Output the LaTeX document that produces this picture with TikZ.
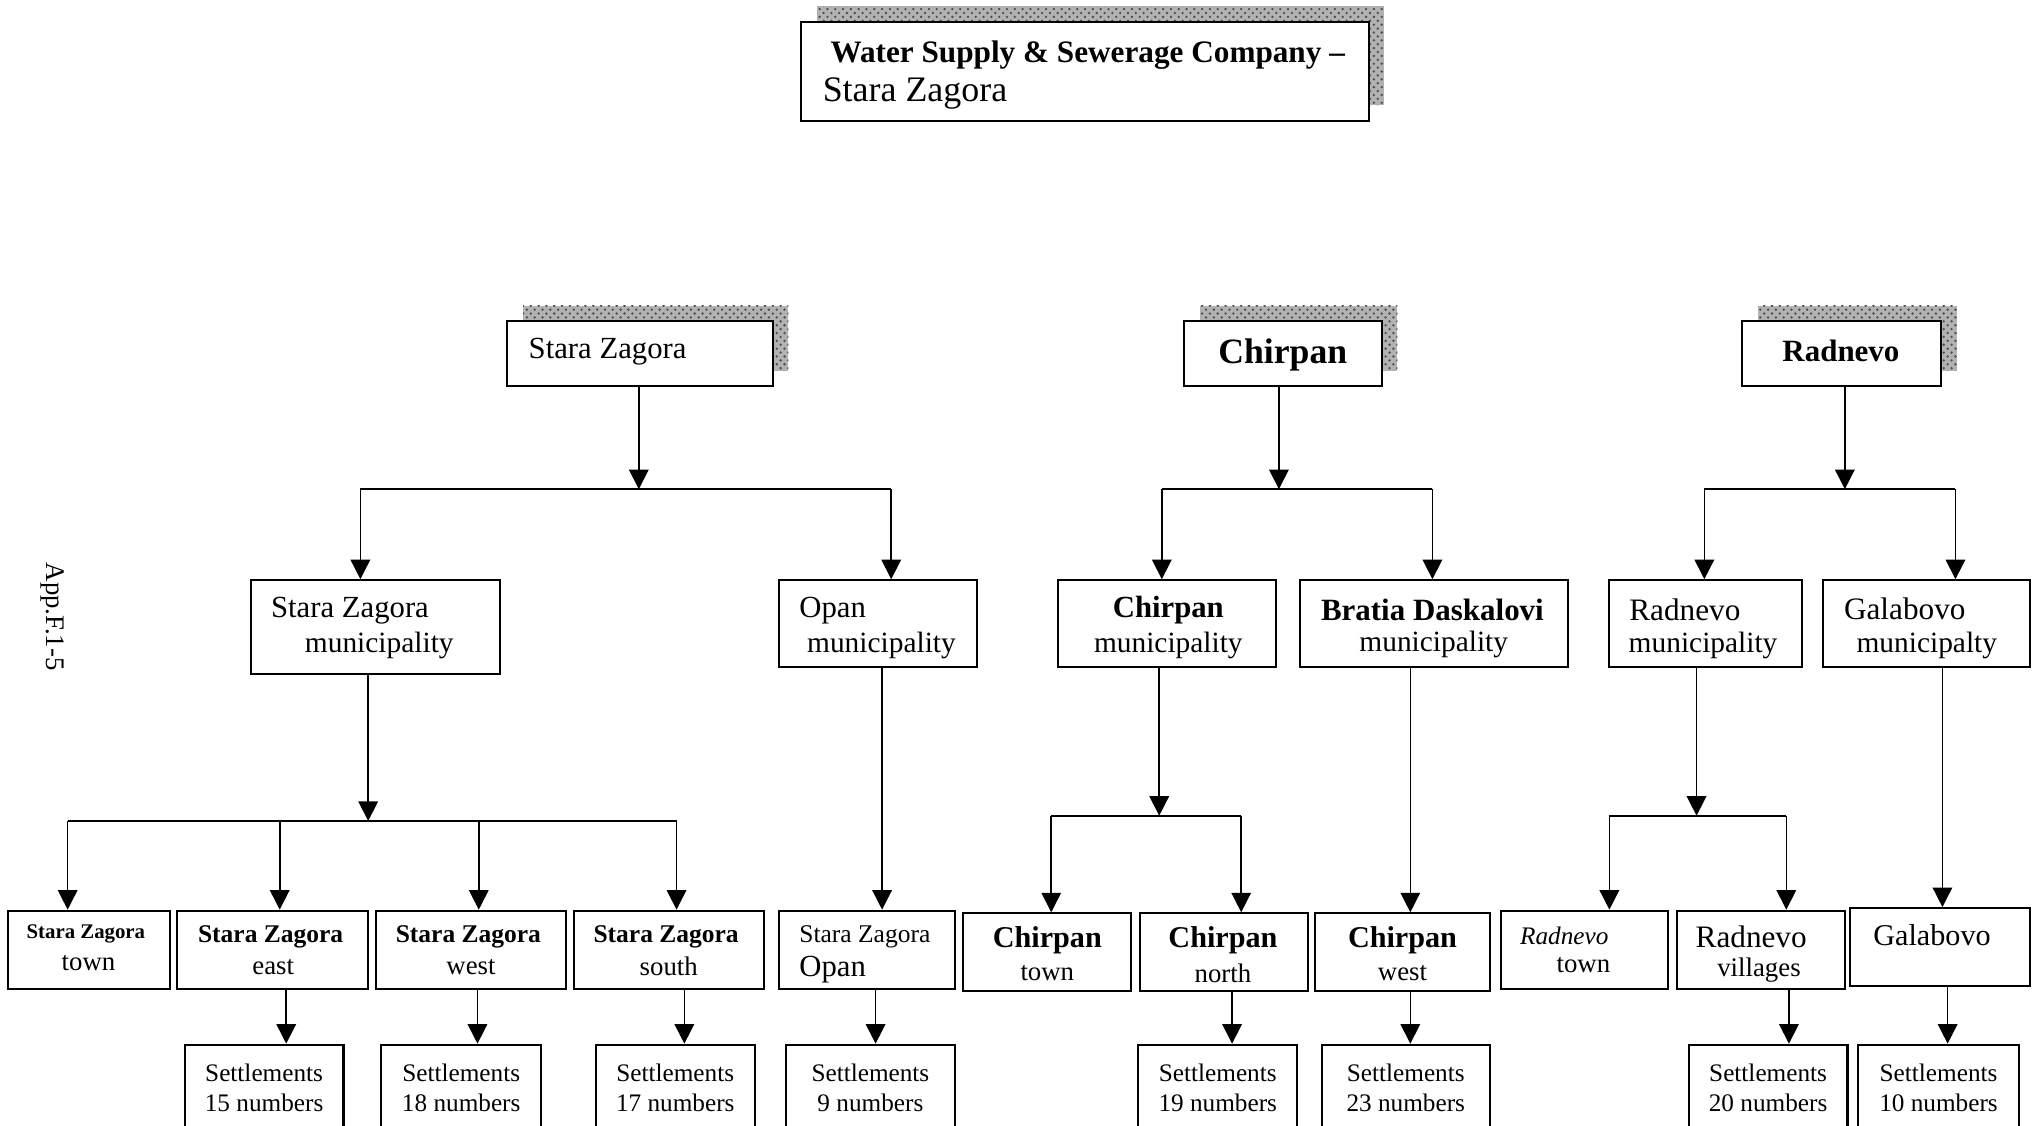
\documentclass[tikz,border=0pt]{standalone}
\usepackage{fontspec}
\setmainfont{Liberation Serif}
\usetikzlibrary{arrows.meta,fit,calc,patterns}
\newcommand{\fsz}[1]{\fontsize{#1}{#1}\selectfont}
\tikzset{
  box/.style={draw, line width=0.8pt, fill=white, inner sep=0pt},
  shadowbox/.style={fill=gray!60, draw=none, postaction={pattern=crosshatch dots, pattern color=black!70}},
  link/.style={line width=0.6pt},
  arr/.style={line width=0.6pt, -{Triangle[length=7.5pt,width=7.5pt]}},
  txt/.style={inner sep=0pt, yshift=-1pt}
}

\begin{document}
\begin{tikzpicture}[x=0.5pt, y=-0.5pt]
\useasboundingbox (0,0) rectangle (1568,865);
\clip (0,0) rectangle (1568,865);

% shadows of the top boxes
\fill[shadowbox] (628,5) rectangle (1064,81);
\fill[shadowbox] (402,235) rectangle (606,285);
\fill[shadowbox] (922,235) rectangle (1074,285);
\fill[shadowbox] (1351,235) rectangle (1504,285);

% company
\node[box, fit={(616,17) (1052,93)}] (wss) {};
\node[txt, anchor=west, font=\bfseries\fsz{12}] (wssA) at (638,40) {Water Supply \& Sewerage Company --};
\node[txt, anchor=west, font=\fsz{13.8}] (wssB) at (632,70) {Stara Zagora};

% regions
\node[box, fit={(390,247) (594,297)}] (sz) {};
\node[txt, anchor=west, font=\fsz{11.8}] (szA) at (406,268) {Stara Zagora};
\node[box, fit={(910,247) (1062,297)}] (ch) {};
\node[txt, font=\bfseries\fsz{13.7}] (chA) at (986,271) {Chirpan};
\node[box, fit={(1339,247) (1492,297)}] (ra) {};
\node[txt, font=\bfseries\fsz{11.9}] (raA) at (1415,268) {Radnevo};

% municipalities
\node[box, fit={(193,446) (384,518)}] (szm) {};
\node[txt, anchor=west, font=\fsz{11.8}] (szmA) at (208,467) {Stara Zagora};
\node[txt, anchor=west, font=\fsz{11.3}] (szmB) at (234,494) {municipality};
\node[box, fit={(599,446) (751,513)}] (opm) {};
\node[txt, anchor=west, font=\fsz{11.8}] (opmA) at (614,467) {Opan};
\node[txt, anchor=west, font=\fsz{11.3}] (opmB) at (620,494) {municipality};
\node[box, fit={(813,446) (981,513)}] (chm) {};
\node[txt, font=\bfseries\fsz{11.8}] (chmA) at (898,467) {Chirpan};
\node[txt, font=\fsz{11.3}] (chmB) at (898,494) {municipality};
\node[box, fit={(999,446) (1205,513)}] (bdm) {};
\node[txt, font=\bfseries\fsz{11.9}] (bdmA) at (1101,467) {Bratia Daskalovi};
\node[txt, font=\fsz{11.3}] (bdmB) at (1102,493) {municipality};
\node[box, fit={(1237,446) (1385,513)}] (ram) {};
\node[txt, anchor=west, font=\fsz{12}] (ramA) at (1252,467) {Radnevo};
\node[txt, font=\fsz{11.3}] (ramB) at (1309,494) {municipality};
\node[box, fit={(1401,446) (1560,513)}] (gam) {};
\node[txt, anchor=west, font=\fsz{12}] (gamA) at (1417,466) {Galabovo};
\node[txt, font=\fsz{11.3}] (gamB) at (1481,494) {municipalty};

% districts
\node[box, fit={(6,700) (131,760)}] (szt) {};
\node[txt, font=\bfseries\fsz{8}] (sztA) at (66,716) {Stara Zagora};
\node[txt, font=\fsz{10.3}] (sztB) at (68,738) {town};
\node[box, fit={(136,700) (283,760)}] (sze) {};
\node[txt, font=\bfseries\fsz{9.8}] (szeA) at (208,718) {Stara Zagora};
\node[txt, font=\fsz{10.3}] (szeB) at (210,741) {east};
\node[box, fit={(289,700) (435,760)}] (szw) {};
\node[txt, font=\bfseries\fsz{9.8}] (szwA) at (360,718) {Stara Zagora};
\node[txt, font=\fsz{10.3}] (szwB) at (362,741) {west};
\node[box, fit={(441,700) (587,760)}] (szs) {};
\node[txt, font=\bfseries\fsz{9.8}] (szsA) at (512,718) {Stara Zagora};
\node[txt, font=\fsz{10.3}] (szsB) at (514,741) {south};
\node[box, fit={(599,700) (734,760)}] (szo) {};
\node[txt, anchor=west, font=\fsz{9.8}] (szoA) at (614,718) {Stara Zagora};
\node[txt, anchor=west, font=\fsz{11.8}] (szoB) at (614,743) {Opan};
\node[box, fit={(740,702) (869,762)}] (cht) {};
\node[txt, font=\bfseries\fsz{11.6}] (chtA) at (805,721) {Chirpan};
\node[txt, font=\fsz{10.3}] (chtB) at (805,746) {town};
\node[box, fit={(876,702) (1005,762)}] (chn) {};
\node[txt, font=\bfseries\fsz{11.6}] (chnA) at (940,721) {Chirpan};
\node[txt, font=\fsz{10.3}] (chnB) at (940,746) {north};
\node[box, fit={(1011,702) (1145,762)}] (chw) {};
\node[txt, font=\bfseries\fsz{11.6}] (chwA) at (1078,721) {Chirpan};
\node[txt, font=\fsz{10.3}] (chwB) at (1078,746) {west};
\node[box, fit={(1154,700) (1282,760)}] (rat) {};
\node[txt, anchor=west, font=\itshape\fsz{9.7}] (ratA) at (1168,717) {Radnevo};
\node[txt, font=\fsz{10.3}] (ratB) at (1217,740) {town};
\node[box, fit={(1289,700) (1418,760)}] (rav) {};
\node[txt, font=\fsz{12}] (ravA) at (1346,718) {Radnevo};
\node[txt, font=\fsz{10.3}] (ravB) at (1352,744) {villages};
\node[box, fit={(1422,698) (1560,758)}] (gab) {};
\node[txt, font=\fsz{11.6}] (gabA) at (1485,717) {Galabovo};

% settlements
\foreach \n/\xa/\xb/\num in {s1/142/264/15, s2/293/416/18, s3/458/580/17, s4/604/734/9,
    s5/875/997/19, s6/1016/1145/23, s7/1298/1420/20, s8/1428/1552/10} {
  \node[box, fit={(\xa,803) (\xb,890)}] (\n) {};
  \node[txt, font=\fsz{9.7}] (\n A) at ($(\xa,823)!0.5!(\xb,823)$) {Settlements};
  \node[txt, font=\fsz{9.7}] (\n B) at ($(\xa,846)!0.5!(\xb,846)$) {\num{} numbers};
}

% region -> municipalities
\coordinate (j1) at (491,376);
\coordinate (j1L) at (277,376);
\coordinate (j1R) at (685,376);
\draw[arr] (j1 |- sz.south) -- (j1);
\draw[link] (j1L) -- (j1R);
\draw[arr] (j1L) -- (j1L |- szm.north);
\draw[arr] (j1R) -- (j1R |- opm.north);

\coordinate (j2) at (983,376);
\coordinate (j2L) at (893,376);
\coordinate (j2R) at (1101,376);
\draw[arr] (j2 |- ch.south) -- (j2);
\draw[link] (j2L) -- (j2R);
\draw[arr] (j2L) -- (j2L |- chm.north);
\draw[arr] (j2R) -- (j2R |- bdm.north);

\coordinate (j3) at (1418,376);
\coordinate (j3L) at (1310,376);
\coordinate (j3R) at (1503,376);
\draw[arr] (j3 |- ra.south) -- (j3);
\draw[link] (j3L) -- (j3R);
\draw[arr] (j3L) -- (j3L |- ram.north);
\draw[arr] (j3R) -- (j3R |- gam.north);

% municipalities -> districts
\coordinate (j4) at (283,631);
\coordinate (j4a) at (52,631);
\coordinate (j4b) at (215,631);
\coordinate (j4c) at (368,631);
\coordinate (j4d) at (520,631);
\draw[arr] (j4 |- szm.south) -- (j4);
\draw[link] (j4a) -- (j4d);
\draw[arr] (j4a) -- (j4a |- szt.north);
\draw[arr] (j4b) -- (j4b |- sze.north);
\draw[arr] (j4c) -- (j4c |- szw.north);
\draw[arr] (j4d) -- (j4d |- szs.north);

\coordinate (j5) at (678,600);
\draw[arr] (j5 |- opm.south) -- (j5 |- szo.north);

\coordinate (j6) at (891,627);
\coordinate (j6L) at (808,627);
\coordinate (j6R) at (954,627);
\draw[arr] (j6 |- chm.south) -- (j6);
\draw[link] (j6L) -- (j6R);
\draw[arr] (j6L) -- (j6L |- cht.north);
\draw[arr] (j6R) -- (j6R |- chn.north);

\coordinate (j7) at (1084,600);
\draw[arr] (j7 |- bdm.south) -- (j7 |- chw.north);

\coordinate (j8) at (1304,627);
\coordinate (j8L) at (1237,627);
\coordinate (j8R) at (1373,627);
\draw[arr] (j8 |- ram.south) -- (j8);
\draw[link] (j8L) -- (j8R);
\draw[arr] (j8L) -- (j8L |- rat.north);
\draw[arr] (j8R) -- (j8R |- rav.north);

\coordinate (j9) at (1493,600);
\draw[arr] (j9 |- gam.south) -- (j9 |- gab.north);

% districts -> settlements
\foreach \x/\a/\b in {220/sze/s1, 367/szw/s2, 526/szs/s3, 673/szo/s4,
    947/chn/s5, 1084/chw/s6, 1375/rav/s7, 1497/gab/s8} {
  \coordinate (d) at (\x,780);
  \draw[arr] (d |- \a.south) -- (d |- \b.north);
}

\node[txt, rotate=-90, font=\fsz{10.3}] (app) at (40,472) {App.F.1-5};
\end{tikzpicture}
\end{document}
